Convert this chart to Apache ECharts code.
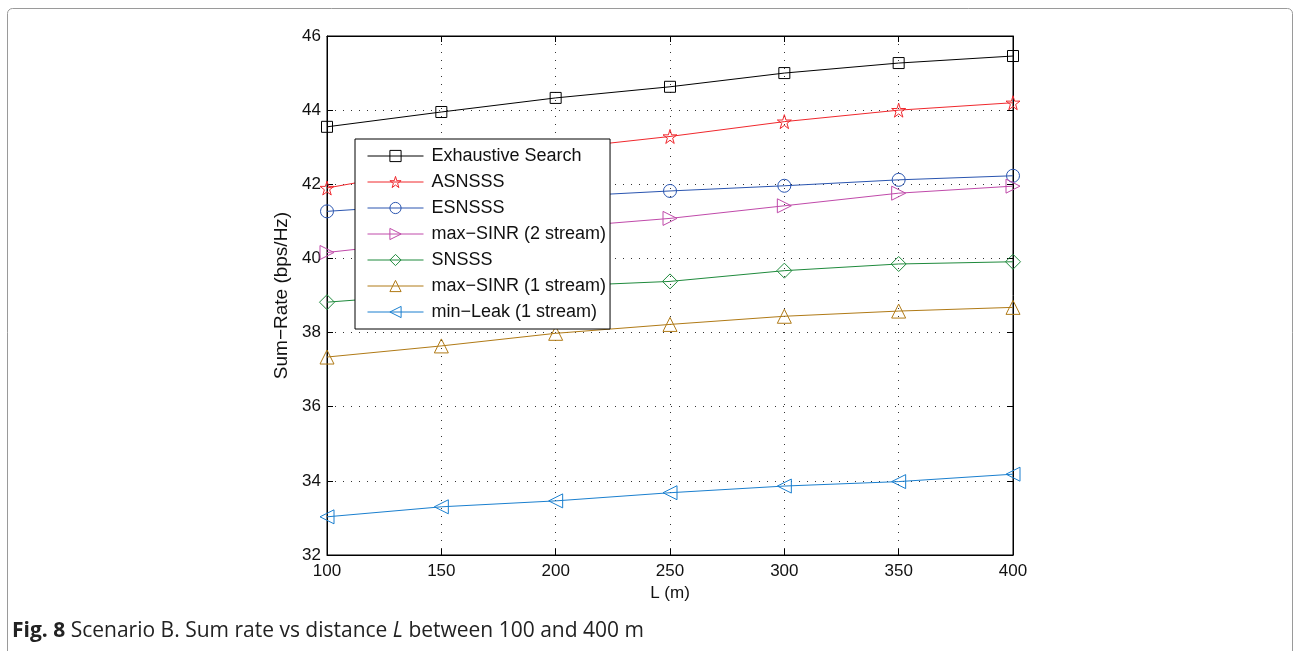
<!DOCTYPE html>
<html lang="en">
<head>
    <meta charset="UTF-8">
    <script src="https://cdn.jsdelivr.net/npm/echarts@6/dist/echarts.min.js"></script>
    <style>
        html, body { margin: 0; padding: 0; background: #fff; }
        #main { width: 1294px; height: 651px; }
    </style>
</head>
<body>
<div id="main"></div>
<script type="text/javascript">
    // data
    var distances = [100, 150, 200, 250, 300, 350, 400];
    var exhaustiveSearch = [43.55, 43.95, 44.33, 44.63, 45.0, 45.27, 45.46];
    var asnsss = [41.9, 42.45, 42.95, 43.29, 43.69, 44.0, 44.2];
    var esnsss = [41.27, 41.47, 41.66, 41.82, 41.96, 42.12, 42.23];
    var maxSinr2 = [40.16, 40.5, 40.83, 41.08, 41.42, 41.76, 41.95];
    var snsss = [38.82, 39.05, 39.25, 39.38, 39.67, 39.85, 39.91];
    var maxSinr1 = [37.34, 37.64, 37.98, 38.22, 38.44, 38.58, 38.68];
    var minLeak1 = [33.03, 33.3, 33.46, 33.68, 33.86, 33.98, 34.18];
    var yTicks = [32, 34, 36, 38, 40, 42, 44, 46];

    var starPath = 'path://M50,0 L61,35 L98,35 L68,57 L79,91 L50,70 L21,91 L32,57 L2,35 L39,35 Z';

    function pairs(vals) {
        return distances.map(function (d, i) { return [d, vals[i]]; });
    }

    function makeSeries(name, vals, color, symbol, size, rotate) {
        return {
            name: name,
            type: 'line',
            data: pairs(vals),
            symbol: symbol,
            symbolSize: size,
            symbolRotate: rotate || 0,
            showAllSymbol: true,
            color: color,
            lineStyle: { color: color, width: 1 },
            itemStyle: { color: 'rgba(255,255,255,0)', borderColor: color, borderWidth: 1 },
            emphasis: { disabled: true },
            animation: false,
            z: 3
        };
    }

    var myChart = echarts.init(document.getElementById('main'));

    var font = 'Liberation Sans, Arial, Helvetica, sans-serif';
    var capFont = '"Open Sans", "Noto Sans", sans-serif';
    var dotted = { type: [1, 7], color: '#333', width: 1 };

    var option = {
        backgroundColor: '#fff',
        animation: false,
        grid: { left: 327, right: 281, top: 36, bottom: 96, show: true, borderColor: '#000', borderWidth: 1 },
        legend: {
            orient: 'vertical',
            left: 355,
            top: 139,
            padding: [8, 4, 8, 12],
            itemWidth: 56,
            itemHeight: 14,
            itemGap: 8,
            backgroundColor: '#fff',
            borderColor: '#000',
            borderWidth: 1,
            itemStyle: { color: 'rgba(255,255,255,0)', borderWidth: 1 },
            lineStyle: { width: 1 },
            textStyle: { fontFamily: font, fontSize: 18, color: '#111', padding: [0, 0, 0, 3] },
            selectedMode: false
        },
        xAxis: [{
            type: 'value',
            min: 100,
            max: 400,
            interval: 50,
            name: 'L (m)',
            nameLocation: 'middle',
            nameGap: 29,
            nameTextStyle: { fontFamily: font, fontSize: 17, color: '#111' },
            axisLine: { lineStyle: { color: '#000' } },
            axisTick: { inside: true, length: 6, lineStyle: { color: '#000' } },
            axisLabel: { fontFamily: font, fontSize: 17, color: '#111', margin: 8 },
            splitLine: { show: true, lineStyle: dotted }
        }, {
            type: 'value',
            position: 'top',
            min: 100,
            max: 400,
            interval: 50,
            axisLine: { lineStyle: { color: '#000' } },
            axisTick: { inside: true, length: 6, lineStyle: { color: '#000' } },
            axisLabel: { show: false },
            splitLine: { show: false }
        }],
        yAxis: [{
            type: 'value',
            min: 32,
            max: 46,
            interval: 2,
            name: 'Sum\u2212Rate (bps/Hz)',
            nameLocation: 'middle',
            nameGap: 35,
            nameTextStyle: { fontFamily: font, fontSize: 19, color: '#111' },
            axisLine: { show: true, lineStyle: { color: '#000' } },
            axisTick: { inside: true, length: 6, lineStyle: { color: '#000' } },
            axisLabel: {
                fontFamily: font, fontSize: 17, color: '#111', margin: 6,
                formatter: function (v) { return yTicks.indexOf(v) >= 0 ? String(v) : ''; }
            },
            splitLine: { show: true, lineStyle: dotted }
        }, {
            type: 'value',
            position: 'right',
            min: 32,
            max: 46,
            interval: 2,
            axisLine: { show: true, lineStyle: { color: '#000' } },
            axisTick: { inside: true, length: 6, lineStyle: { color: '#000' } },
            axisLabel: { show: false },
            splitLine: { show: false }
        }],
        series: [
            makeSeries('Exhaustive Search', exhaustiveSearch, '#000000', 'rect', 11),
            makeSeries('ASNSSS', asnsss, '#f0282d', starPath, 14),
            makeSeries('ESNSSS', esnsss, '#2a55b0', 'circle', 13),
            makeSeries('max\u2212SINR (2 stream)', maxSinr2, '#c04aaa', 'triangle', 14, -90),
            makeSeries('SNSSS', snsss, '#1f8a3c', 'diamond', 15),
            makeSeries('max\u2212SINR (1 stream)', maxSinr1, '#b07a16', 'triangle', 14),
            makeSeries('min\u2212Leak (1 stream)', minLeak1, '#1a7fcf', 'triangle', 14, 90)
        ],
        graphic: [{
            type: 'rect',
            shape: { x: 7.5, y: 8.5, width: 1285, height: 700, r: 5 },
            style: { fill: 'none', stroke: '#9a9a9a', lineWidth: 1 },
            silent: true
        }, {
            type: 'text',
            left: 12,
            top: 621,
            style: {
                text: '{b|Fig. 8} Scenario B. Sum rate vs distance {i|L} between 100 and 400 m',
                font: '21px ' + capFont,
                fill: '#222',
                rich: {
                    b: { fontWeight: 'bold', fontSize: 21, fontFamily: capFont, fill: '#222' },
                    i: { fontStyle: 'italic', fontSize: 21, fontFamily: capFont, fill: '#222' }
                }
            }
        }]
    };

    myChart.setOption(option);
</script>
</body>
</html>
